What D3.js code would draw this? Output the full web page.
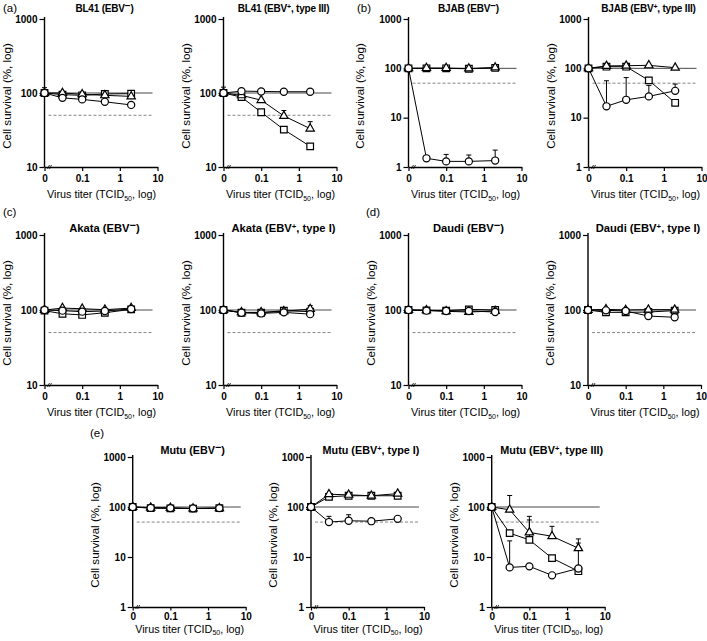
<!DOCTYPE html>
<html><head><meta charset="utf-8">
<script src="https://cdn.jsdelivr.net/npm/d3@7"></script>
<style>body{margin:0;background:#fff} svg{font-family:"Liberation Sans",Arial,sans-serif}</style>
</head><body><svg id="c" width="707" height="641"></svg>
<script>
// ---------- data ----------
const titers = [0, 0.03, 0.1, 0.4, 2];
const xTickValues = [0.01, 0.1, 1, 10];
const xTickLabels = ["0", "0.1", "1", "10"];
const cellLines = ["BL41","BL41","BJAB","BJAB","Akata","Akata","Daudi","Daudi","Mutu","Mutu","Mutu"];
const ebvSign = ["−","+","−","+","−","+","−","+","−","+","+"];
const ebvType = ["",", type III","",", type III","",", type I","",", type I","",", type I",", type III"];
const panelLetters = ["(a)","","(b)","","(c)","","(d)","","(e)","",""];
const yMinimum = [10,10,1,1,10,10,10,10,1,1,1];
const refSolid = 100, refDashed = 50;

const circleSurvival = [
  [100,86,82,76,69],[100,106,105,104,104],[100,1.5,1.3,1.3,1.35],[100,17,23,27,35],
  [100,98,95,97,103],[100,92,90,93,88],[100,98,97,97,94],[100,99,97,83,80],
  [100,96,95,94,95],[100,50,53,52,58],[100,6.2,6.5,4.3,5.9]];
const squareSurvival = [
  [100,95,93,97,98],[100,88,55,32,19],[100,100,100,98,102],[100,108,108,57,20],
  [98,89,86,92,102],[100,92,92,98,95],[100,99,98,102,100],[100,93,93,94,98],
  [100,95,94,93,95],[100,160,168,168,168],[100,30,22,9.5,5.2]];
const triangleSurvival = [
  [100,100,96,93,90],[100,93,80,49,33],[100,101,101,99,104],[100,112,113,115,103],
  [100,106,104,101,106],[100,93,93,96,103],[100,99,96,94,97],[100,102,100,101,101],
  [100,97,96,93,94],[100,180,175,168,185],[100,88,31,26,15]];
// upper error-bar ends (null = not visible)
const circleErrTop = [
  [118,null,null,null,null],[null,null,null,null,null],[null,null,1.8,1.75,2.2],[null,56,65,45,48],
  [null,null,null,null,null],[null,null,null,null,null],[null,null,null,null,null],[null,null,null,null,null],
  [null,null,null,null,null],[null,65,70,null,null],[null,21,null,null,null]];
const squareErrTop = [
  [null,null,null,null,null],[null,null,null,null,null],[null,null,null,null,null],[null,null,null,null,null],
  [null,null,null,null,null],[null,null,null,null,null],[null,null,null,null,null],[null,null,null,null,null],
  [null,null,null,null,null],[null,null,null,null,null],[null,null,55,null,19]];
const triangleErrTop = [
  [null,null,null,null,null],[120,null,null,58,41],[null,null,null,null,null],[null,null,null,null,null],
  [null,null,null,null,null],[null,null,null,null,115],[null,null,null,null,null],[null,null,null,null,null],
  [null,null,null,null,null],[null,null,null,null,null],[null,170,65,41,23]];

// ---------- layout ----------
const rows = [
  {top:19, bottom:167, xs:[44.5,223.5,408.5,588.5], titleY:12, titleSize:10, titleLS:-0.2, tickSize:4, tickPad:4, xTitleY:31},
  {top:235, bottom:385, xs:[44.5,223.5,408.5,588], titleY:232, titleSize:11.2, titleLS:0, tickSize:4, tickPad:4, xTitleY:31},
  {top:457, bottom:607, xs:[132.7,311,491.7], titleY:454, titleSize:10.8, titleLS:0, tickSize:3.5, tickPad:2.5, xTitleY:25.5}
];
const panelRow = [0,0,0,0,1,1,1,1,2,2,2];
const panelCol = [0,1,2,3,0,1,2,3,0,1,2];
const letterPos = [[3,12],null,[357,12],null,[3,216],null,[366,216],null,[90,437],null,null];
const plotW = 113;

const svg = d3.select("#c");

function sym(type, size){ return d3.symbol().type(type).size(size)(); }

for (let p = 0; p < 11; p++) {
  const r = rows[panelRow[p]];
  const x0 = r.xs[panelCol[p]];
  const x = d3.scaleLog().domain([0.01, 10]).range([x0, x0 + plotW]);
  const y = d3.scaleLog().domain([yMinimum[p], 1000]).range([r.bottom, r.top]);
  const g = svg.append("g");
  const xv = t => x(t === 0 ? 0.01 : t);

  // reference lines
  g.append("line").attr("x1", x0).attr("x2", x0 + 108).attr("y1", y(refSolid)).attr("y2", y(refSolid))
    .attr("stroke", "#333").attr("stroke-width", 0.9);
  g.append("line").attr("x1", x0 + 4).attr("x2", x0 + 108).attr("y1", y(refDashed)).attr("y2", y(refDashed))
    .attr("stroke", "#777").attr("stroke-width", 0.9).attr("stroke-dasharray", "3,2");

  // axes
  const yTicks = yMinimum[p] === 1 ? [1,10,100,1000] : [10,100,1000];
  const ya = g.append("g").attr("transform", `translate(${x0},0)`)
    .call(d3.axisLeft(y).tickValues(yTicks).tickFormat(d3.format("d")).tickSize(5).tickPadding(2).tickSizeOuter(0));
  const xa = g.append("g").attr("transform", `translate(0,${r.bottom})`)
    .call(d3.axisBottom(x).tickValues(xTickValues).tickFormat((d,i) => xTickLabels[i]).tickSize(r.tickSize).tickPadding(r.tickPad).tickSizeOuter(0));
  [ya, xa].forEach(a => {
    a.select(".domain").attr("stroke", "#000").attr("stroke-width", 1.4);
    a.selectAll(".tick line").attr("stroke", "#000").attr("stroke-width", 1.2);
    a.selectAll(".tick text").attr("font-size", 10).attr("font-weight", "bold").attr("fill", "#000")
      .attr("font-family", '"Liberation Sans",Arial,sans-serif');
  });
  ya.select(".domain").attr("d", `M0,${r.top - 2}V${r.bottom}`);
  // axis break mark
  g.append("path").attr("d", `M${x0+3},${r.bottom+2}L${x0+5},${r.bottom-2}M${x0+5},${r.bottom+2}L${x0+7},${r.bottom-2}`)
    .attr("stroke", "#000").attr("stroke-width", 0.8);

  // series
  const series = [
    {v: squareSurvival[p], e: squareErrTop[p], type: d3.symbolSquare, size: 44},
    {v: triangleSurvival[p], e: triangleErrTop[p], type: d3.symbolTriangle, size: 30},
    {v: circleSurvival[p], e: circleErrTop[p], type: d3.symbolCircle, size: 40}
  ];
  const line = d3.line().x((d,i) => xv(titers[i])).y(d => y(d));
  series.forEach(s => {
    g.append("path").attr("d", line(s.v)).attr("fill", "none").attr("stroke", "#000").attr("stroke-width", 1);
  });
  series.forEach(s => {
    s.e.forEach((t, i) => {
      if (t == null) return;
      const cx = xv(titers[i]);
      g.append("path").attr("d", `M${cx},${y(s.v[i])}V${y(t)}M${cx-2.5},${y(t)}H${cx+2.5}`)
        .attr("stroke", "#000").attr("stroke-width", 1).attr("fill", "none");
    });
  });
  series.forEach(s => {
    g.selectAll(null).data(s.v).enter().append("path")
      .attr("d", sym(s.type, s.size))
      .attr("transform", (d,i) => `translate(${xv(titers[i])},${y(d)})`)
      .attr("fill", "#fff").attr("stroke", "#000").attr("stroke-width", 1.2);
  });

  // titles
  const t = g.append("text").attr("x", x0 + 60).attr("y", r.titleY).attr("text-anchor", "middle")
    .attr("font-size", r.titleSize).attr("font-weight", "bold").attr("letter-spacing", r.titleLS).attr("fill", "#000");
  t.append("tspan").text(cellLines[p] + " (EBV");
  const neg = ebvSign[p] === "−";
  t.append("tspan").attr("dy", -3.5).attr("font-size", r.titleSize * (neg ? 1 : 0.7)).text(ebvSign[p]);
  t.append("tspan").attr("dy", 3.5).text(ebvType[p] + ")");

  // y title
  const ytx = p === 2 ? x0 - 45 : x0 - 34;
  g.append("text").attr("transform", `translate(${ytx},${(r.top + r.bottom) / 2 + 3}) rotate(-90)`)
    .attr("text-anchor", "middle").attr("font-size", 11.6).attr("fill", "#000").text("Cell survival (%, log)");
  // x title
  const xt = g.append("text").attr("x", x0 + 57).attr("y", r.bottom + r.xTitleY).attr("text-anchor", "middle")
    .attr("font-size", 10.8).attr("fill", "#000");
  xt.append("tspan").text("Virus titer (TCID");
  xt.append("tspan").attr("dy", 2.5).attr("font-size", 7).text("50");
  xt.append("tspan").attr("dy", -2.5).text(", log)");

  if (letterPos[p]) {
    svg.append("text").attr("x", letterPos[p][0]).attr("y", letterPos[p][1]).attr("font-size", 11.5)
      .attr("fill", "#000").text(panelLetters[p]);
  }
}
</script></body></html>
